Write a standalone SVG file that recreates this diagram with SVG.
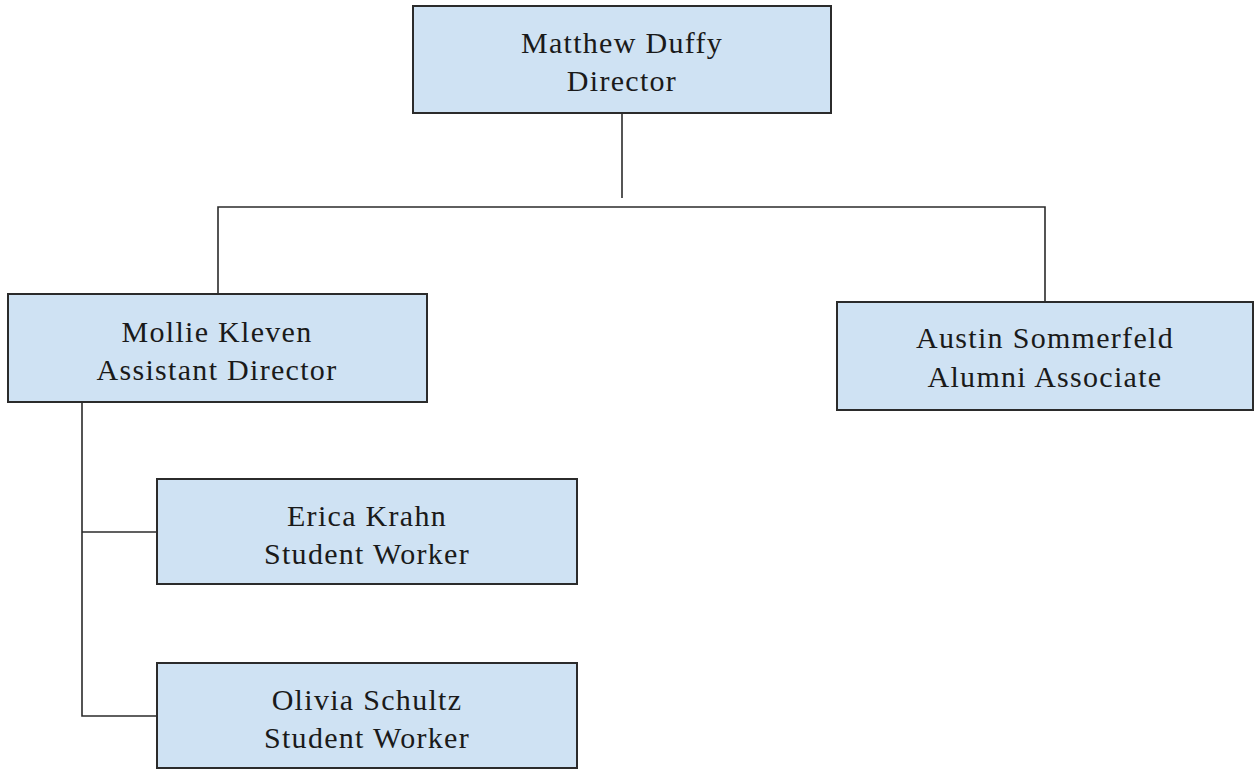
<svg xmlns="http://www.w3.org/2000/svg" width="1255" height="771" viewBox="0 0 1255 771">
<style>
.box{fill:#cfe2f3;stroke:#2b2b2b;stroke-width:2}
.lbl{font-family:"Liberation Serif","DejaVu Serif",serif;font-size:30px;letter-spacing:1.3px;fill:#1a1a1a;text-anchor:middle}
.conn{fill:none;stroke:#2b2b2b;stroke-width:1.6}
</style>
<rect width="1255" height="771" fill="#ffffff"/>
<g id="connectors">
<path class="conn" d="M622 113 V198"/>
<path class="conn" d="M218 293 V207 H1045 V302"/>
<path class="conn" d="M82 402 V716 H157"/>
<path class="conn" d="M82 532 H157"/>
</g>
<g id="matthew">
<rect class="box" x="413" y="6" width="418" height="107"/>
<text class="lbl" x="622" y="53">Matthew Duffy</text>
<text class="lbl" x="622" y="91">Director</text>
</g>
<g id="mollie">
<rect class="box" x="8" y="294" width="419" height="108"/>
<text class="lbl" x="217" y="342">Mollie Kleven</text>
<text class="lbl" x="217" y="380">Assistant Director</text>
</g>
<g id="austin">
<rect class="box" x="837" y="302" width="416" height="108"/>
<text class="lbl" x="1045" y="348">Austin Sommerfeld</text>
<text class="lbl" x="1045" y="387">Alumni Associate</text>
</g>
<g id="erica">
<rect class="box" x="157" y="479" width="420" height="105"/>
<text class="lbl" x="367" y="526">Erica Krahn</text>
<text class="lbl" x="367" y="564">Student Worker</text>
</g>
<g id="olivia">
<rect class="box" x="157" y="663" width="420" height="105"/>
<text class="lbl" x="367" y="710">Olivia Schultz</text>
<text class="lbl" x="367" y="748">Student Worker</text>
</g>
</svg>
